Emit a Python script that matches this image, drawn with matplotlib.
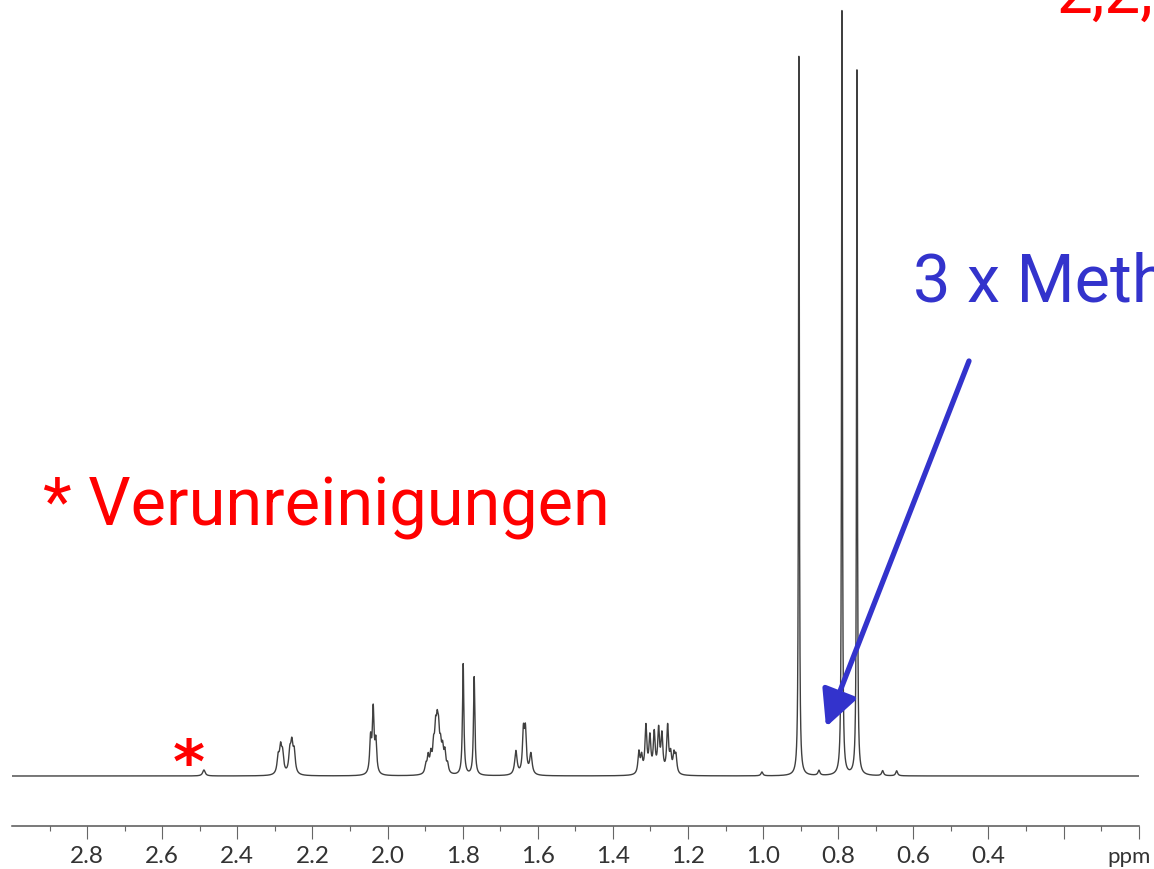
import numpy as np
import matplotlib.pyplot as plt
from matplotlib.patches import FancyArrowPatch

# peaks: shift (ppm), height (% of tallest line), half width (ppm)
peak_ppm = [2.489,
            2.2913, 2.2849, 2.2796, 2.2602, 2.2549, 2.2487,
            2.0453, 2.0383, 2.0312,
            1.898, 1.8919, 1.8847, 1.8775, 1.8722, 1.8679, 1.8642, 1.8589, 1.8535, 1.8474, 1.8402,
            1.7987, 1.7694,
            1.6583, 1.6383, 1.6330, 1.6184,
            1.3308, 1.3236, 1.3121, 1.3015, 1.2900, 1.2783, 1.2695, 1.2543, 1.2463, 1.2375, 1.2322,
            1.0032, 0.9047, 0.8514, 0.7901, 0.7502, 0.6818, 0.6445]
peak_height = [0.78,
               2.1, 3.1, 2.4, 2.6, 3.5, 2.7,
               4.4, 8.2, 4.0,
               1.1, 2.1, 2.2, 3.0, 4.6, 4.6, 4.2, 2.8, 2.7, 2.5, 1.1,
               14.5, 12.8,
               3.1, 5.3, 5.3, 2.7,
               2.8, 2.1, 6.1, 4.6, 5.1, 5.5, 4.8, 6.1, 2.3, 2.3, 2.2,
               0.5, 94.1, 0.65, 100.0, 91.7, 0.65, 0.65]
peak_width = [0.004,
              0.0035, 0.0035, 0.0035, 0.0035, 0.0035, 0.0035,
              0.0028, 0.0028, 0.0028,
              0.003, 0.003, 0.003, 0.003, 0.003, 0.003, 0.003, 0.003, 0.003, 0.003, 0.003,
              0.0022, 0.0022,
              0.0038, 0.003, 0.003, 0.0038,
              0.003, 0.003, 0.003, 0.003, 0.003, 0.003, 0.003, 0.003, 0.003, 0.003, 0.003,
              0.003, 0.0013, 0.003, 0.0013, 0.0013, 0.003, 0.003]

major_ticks = [2.8, 2.6, 2.4, 2.2, 2.0, 1.8, 1.6, 1.4, 1.2, 1.0, 0.8, 0.6, 0.4, 0.2, 0.0]
major_labels = ['2.8', '2.6', '2.4', '2.2', '2.0', '1.8', '1.6', '1.4', '1.2', '1.0', '0.8',
                '0.6', '0.4', '', '']
minor_ticks = [2.9, 2.7, 2.5, 2.3, 2.1, 1.9, 1.7, 1.5, 1.3, 1.1, 0.9, 0.7, 0.5, 0.3, 0.1]

W, H = 1154, 869


def px(x, y):
    # pixel position (from top left) -> figure fraction
    return x / W, 1 - y / H


# build the spectrum as a sum of lorentzian lines
ppm = np.linspace(3.0, 0.0, 15001)
spec = np.zeros_like(ppm)
for p0, h, w in zip(peak_ppm, peak_height, peak_width):
    spec += h * w**2 / ((ppm - p0)**2 + w**2)

fig = plt.figure(figsize=(W / 100, H / 100), dpi=100)
ax = fig.add_axes([12 / W, 43 / H, (1138.7 - 12) / W, 826 / H])
ax.plot(ppm, spec, color='#404040', lw=1.0)
ax.set_xlim(3.0, 0.0)
ax.set_ylim(-6.5, 100.9)

for s in ['top', 'left', 'right']:
    ax.spines[s].set_visible(False)
ax.spines['bottom'].set_color('#555555')
ax.spines['bottom'].set_linewidth(1.1)
ax.set_yticks([])
ax.set_xticks(major_ticks)
ax.set_xticklabels(major_labels)
ax.set_xticks(minor_ticks, minor=True)
ax.tick_params(axis='x', which='major', direction='out', length=9.5, width=0.8,
               color='#666666', pad=5, labelsize=17.5, labelcolor='#333333')
ax.tick_params(axis='x', which='minor', direction='out', length=3.6, width=0.8,
               color='#666666')
for lab in ax.get_xticklabels():
    lab.set_fontfamily('Lato')

fig.text(*px(1129, 857), 'ppm', ha='center', va='center', fontsize=16,
         family='Lato', color='#333333')

# annotations
fig.text(*px(43, 526), '* Verunreinigungen', fontsize=48, family='Roboto',
         color='#ff0000', ha='left', va='baseline')
fig.text(*px(913, 302), '3 x Methyl', fontsize=48, family='Roboto',
         color='#3333cc', ha='left', va='baseline')
fig.text(*px(1056, 12), '2,2,4-Trimethylpentan', fontsize=46, family='Roboto',
         color='#ff0000', ha='left', va='baseline')
fig.text(*px(189, 783), '*', fontsize=44, family='DejaVu Sans', fontweight='bold',
         color='#ff0000', ha='center', va='baseline')

arrow = FancyArrowPatch(px(969, 361), px(826, 727), transform=fig.transFigure,
                        arrowstyle='-|>,head_length=22,head_width=11',
                        mutation_scale=1, lw=3.8, color='#3333cc',
                        shrinkA=0, shrinkB=0)
fig.add_artist(arrow)

fig.savefig('out.png', dpi=100)
